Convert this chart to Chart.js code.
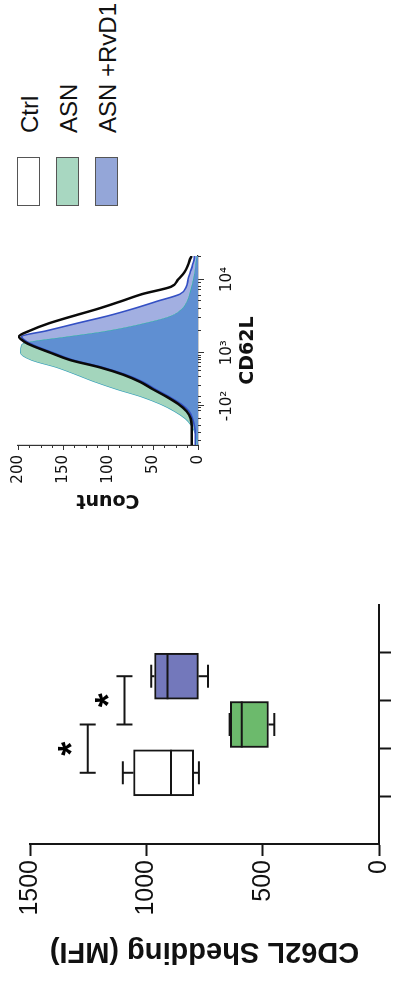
<!DOCTYPE html>
<html>
<head>
<meta charset="utf-8">
<script src="https://cdn.jsdelivr.net/npm/chart.js@4.4.1/dist/chart.umd.min.js"></script>
<style>
  html, body { margin: 0; padding: 0; background: #fff; }
  body { width: 398px; height: 984px; position: relative; overflow: hidden; }
  /* whole figure is drawn landscape, then turned a quarter to the left */
  #fig {
    position: absolute; left: 0; top: 0; width: 984px; height: 398px;
    transform-origin: 0 0; transform: translate(0, 984px) rotate(-90deg);
  }
  #boxWrap { position: absolute; left: 0; top: 0; width: 440px; height: 398px; }
  #histWrap { position: absolute; left: 440px; top: 0; width: 320px; height: 398px; }
  .swatch { position: absolute; left: 778px; width: 47px; height: 21px; border: 1.5px solid #555; }
  .legText { position: absolute; left: 851px; font: 24px 'Liberation Sans', Arial, sans-serif; color: #111; line-height: 24px; white-space: nowrap; }
</style>
</head>
<body>
<div id="fig">
  <div id="boxWrap"><canvas id="boxChart" width="440" height="398"></canvas></div>
  <div id="histWrap"><canvas id="histChart" width="320" height="398"></canvas></div>
  <div id="legend"></div>
</div>
<script>
// ----- box plot data (CD62L shedding, MFI) -----
const groups = ['Ctrl', 'ASN', 'ASN +RvD1'];
const boxQ1 = [797, 475, 776];
const boxQ3 = [1055, 639, 965];
const boxMedian = [894, 590, 909];
const whiskerLow = [774, 450, 735];
const whiskerHigh = [1101, 642, 979];
const boxColors = ['#ffffff', '#6cba6c', '#7378bb'];
const valueTicks = [0, 500, 1000, 1500];

// significance brackets
const sigFrom = [0, 1];
const sigTo = [1, 2];
const sigLevel = [1252, 1094];
const sigStarLevel = [1349, 1189];
const sigText = ['*', '*'];

// ----- histogram data (count vs CD62L, biex display units) -----
const cd62lPos = [1.74, 1.8, 1.9, 2.0, 2.1, 2.2, 2.3, 2.4, 2.5, 2.6, 2.7, 2.8, 2.9, 3.0, 3.1, 3.15, 3.22, 3.3, 3.4, 3.5, 3.6, 3.7, 3.8, 3.9, 4.0, 4.1, 4.2, 4.3, 4.32];
const ctrlCounts = [7, 7, 7, 7, 8, 12.6, 22, 35, 50, 64, 83, 109, 142, 164, 185, 193, 199, 187, 166, 139, 111, 86, 62, 30, 22, 15, 11, 8, 7];
const asnCounts = [1.5, 2, 3, 7, 14, 26, 42, 63, 90, 114, 135, 157, 185, 197, 196, 187, 146, 101, 61, 31, 18, 12.6, 9.6, 7.4, 5.5, 4, 3, 2, 2];
const rvd1Counts = [3, 3, 3, 4, 6, 10, 19, 32, 47, 61, 80, 106, 139, 161, 182, 190, 196, 168, 135, 101, 72, 46, 20, 13, 11, 8.5, 6, 4, 4];
const xTickPos = [2.274, 3, 4];
const xTickLabels = ['-10²', '10³', '10⁴'];
const xMinorTicks = [1.8, 1.9, 2.0, 2.1, 2.2, 2.25, 2.31, 2.4, 2.55, 2.67, 2.75, 2.81, 2.86, 2.9, 2.93, 2.96, 3.3, 3.48, 3.6, 3.7, 3.78, 3.85, 3.9, 3.95, 4.3];
const countTicks = [0, 50, 100, 150, 200];
const countMinorTicks = [12.5, 25, 37.5, 62.5, 75, 87.5, 112.5, 125, 137.5, 162.5, 175, 187.5];

// legend
const legendLabels = ['Ctrl', 'ASN', 'ASN +RvD1'];
const legendColors = ['#ffffff', '#a8d7c1', '#94a6d8'];

const ARIAL = "'Liberation Sans', Arial, sans-serif";
const DEJAVU = "'DejaVu Sans', sans-serif";
Chart.defaults.color = '#000';

// ----- legend (html) -----
const legend = document.getElementById('legend');
legendLabels.forEach((name, i) => {
    const top = 17 + i * 39;
    legend.insertAdjacentHTML('beforeend',
        `<div class="swatch" style="top:${top}px;background:${legendColors[i]}"></div>
         <div class="legText" style="top:${top + 1}px">${name}</div>`);
});

// ----- whiskers, medians, brackets on top of the boxes -----
const boxExtras = {
    id: 'boxExtras',
    afterDatasetsDraw(chart) {
        const {ctx, scales: {x, y}} = chart;
        const half = 23, cap = 11.5;
        ctx.save();
        ctx.strokeStyle = '#151515';
        ctx.lineWidth = 2;
        const line = (x1, y1, x2, y2) => { ctx.beginPath(); ctx.moveTo(x1, y1); ctx.lineTo(x2, y2); ctx.stroke(); };
        groups.forEach((g, i) => {
            const cx = x.getPixelForValue(i);
            line(cx - half, y.getPixelForValue(boxMedian[i]), cx + half, y.getPixelForValue(boxMedian[i]));
            line(cx, y.getPixelForValue(boxQ3[i]), cx, y.getPixelForValue(whiskerHigh[i]));
            line(cx - cap, y.getPixelForValue(whiskerHigh[i]), cx + cap, y.getPixelForValue(whiskerHigh[i]));
            line(cx, y.getPixelForValue(boxQ1[i]), cx, y.getPixelForValue(whiskerLow[i]));
            line(cx - cap, y.getPixelForValue(whiskerLow[i]), cx + cap, y.getPixelForValue(whiskerLow[i]));
        });
        ctx.font = 'bold 36px ' + ARIAL;
        ctx.textAlign = 'center';
        ctx.textBaseline = 'alphabetic';
        ctx.fillStyle = '#000';
        sigFrom.forEach((a, i) => {
            const x1 = x.getPixelForValue(a), x2 = x.getPixelForValue(sigTo[i]);
            const yy = y.getPixelForValue(sigLevel[i]);
            line(x1, yy, x2, yy);
            line(x1, yy - 8, x1, yy + 8);
            line(x2, yy - 8, x2, yy + 8);
            const m = ctx.measureText(sigText[i]);
            const ys = y.getPixelForValue(sigStarLevel[i]) + (m.actualBoundingBoxAscent - m.actualBoundingBoxDescent) / 2;
            ctx.fillText(sigText[i], (x1 + x2) / 2, ys);
        });
        ctx.restore();
    }
};

new Chart(document.getElementById('boxChart'), {
    type: 'bar',
    data: {
        datasets: [{
            data: groups.map((g, i) => ({x: i, y: [boxQ1[i], boxQ3[i]]})),
            backgroundColor: boxColors,
            borderColor: '#151515',
            borderWidth: 2,
            borderSkipped: false,
            barThickness: 46
        }]
    },
    options: {
        responsive: false,
        animation: false,
        layout: {padding: {top: 30, right: 61, left: 0, bottom: 0}},
        plugins: {legend: {display: false}, tooltip: {enabled: false}},
        scales: {
            x: {
                type: 'linear', min: -0.65, max: 2.65,
                afterBuildTicks: s => { s.ticks = groups.map((g, i) => ({value: i})); },
                afterFit: s => { s.height = 11; },
                ticks: {display: false},
                grid: {drawOnChartArea: false, tickLength: 12, tickWidth: 2, tickColor: '#151515'},
                border: {color: '#151515', width: 2}
            },
            y: {
                min: 0, max: 1500,
                afterBuildTicks: s => { s.ticks = valueTicks.map(v => ({value: v})); },
                afterFit: s => { s.width = 140; },
                ticks: {font: {family: ARIAL, size: 25}, padding: 4, color: '#111', callback: v => String(v)},
                grid: {drawOnChartArea: false, tickLength: 12, tickWidth: 2, tickColor: '#151515'},
                border: {color: '#151515', width: 2},
                title: {display: true, text: 'CD62L Shedding (MFI)', font: {family: ARIAL, size: 29, weight: 'bold'}, padding: {top: 16, bottom: 0}, color: '#111'}
            }
        }
    },
    plugins: [boxExtras]
});

// ----- minor ticks for the histogram axes -----
const minorTicks = {
    id: 'minorTicks',
    afterDraw(chart) {
        const {ctx, chartArea, scales: {x, y}} = chart;
        ctx.save();
        ctx.strokeStyle = '#333';
        ctx.lineWidth = 1;
        xMinorTicks.forEach(v => {
            const px = Math.round(x.getPixelForValue(v)) + 0.5;
            ctx.beginPath(); ctx.moveTo(px, chartArea.bottom); ctx.lineTo(px, chartArea.bottom + 3); ctx.stroke();
        });
        countMinorTicks.forEach(v => {
            const py = Math.round(y.getPixelForValue(v)) + 0.5;
            ctx.beginPath(); ctx.moveTo(chartArea.left, py); ctx.lineTo(chartArea.left - 3, py); ctx.stroke();
        });
        ctx.restore();
    }
};

const pts = arr => cd62lPos.map((p, i) => ({x: p, y: arr[i]}));

new Chart(document.getElementById('histChart'), {
    type: 'line',
    data: {
        datasets: [
            {
                label: 'Ctrl', data: pts(ctrlCounts), fill: false,
                borderColor: '#0a0a0a', borderWidth: 2.5
            },
            {
                label: 'ASN +RvD1', data: pts(rvd1Counts),
                fill: {target: 2, above: '#a2afe1', below: '#a3d5bc'},
                borderColor: '#3450c4', borderWidth: 1.6
            },
            {
                label: 'ASN', data: pts(asnCounts), fill: 'origin',
                backgroundColor: '#5f8fd2',
                borderColor: '#3aa8b4', borderWidth: 1.2
            }
        ]
    },
    options: {
        responsive: false,
        animation: false,
        layout: {padding: {top: 18, right: 32, left: 0, bottom: 0}},
        elements: {point: {radius: 0}, line: {cubicInterpolationMode: 'monotone'}},
        plugins: {legend: {display: false}, tooltip: {enabled: false}},
        scales: {
            x: {
                type: 'linear', min: 1.74, max: 4.32,
                afterBuildTicks: s => { s.ticks = xTickPos.map(v => ({value: v})); },
                afterFit: s => { s.height = 200; },
                ticks: {
                    callback: (v, i) => xTickLabels[i],
                    font: {family: DEJAVU, size: 15}, padding: 14, maxRotation: 0, autoSkip: false, color: '#111'
                },
                grid: {drawOnChartArea: false, tickLength: 6, tickColor: '#333'},
                border: {color: '#333', width: 1.2},
                title: {display: true, text: 'CD62L', font: {family: DEJAVU, size: 19, weight: 'bold'}, padding: {top: 0, bottom: 139}, color: '#111'}
            },
            y: {
                min: 0, max: 200,
                afterBuildTicks: s => { s.ticks = countTicks.map(v => ({value: v})); },
                afterFit: s => { s.width = 99; },
                ticks: {font: {family: DEJAVU, size: 15}, padding: 5, color: '#111'},
                grid: {drawOnChartArea: false, tickLength: 5, tickColor: '#333'},
                border: {color: '#333', width: 1.2},
                title: {display: true, text: 'Count', font: {family: DEJAVU, size: 19, weight: 'bold'}, padding: {top: 33, bottom: 0}, color: '#111'}
            }
        }
    },
    plugins: [minorTicks]
});
</script>
</body>
</html>
